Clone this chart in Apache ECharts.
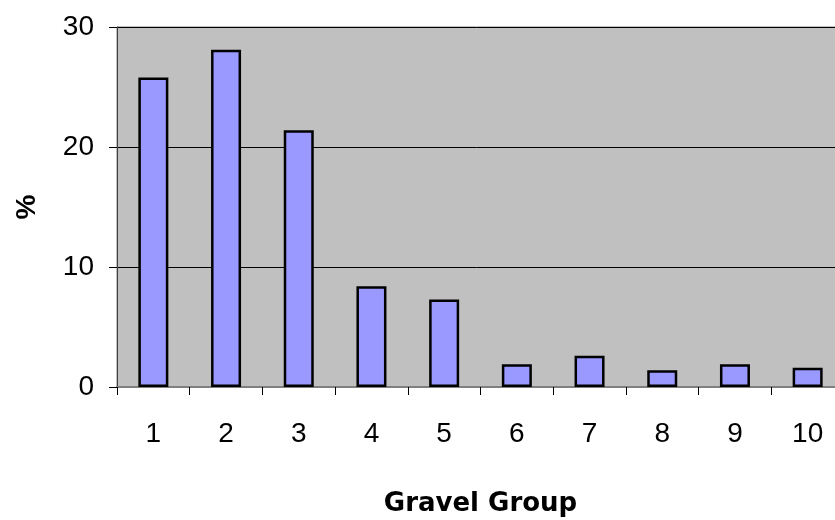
<!DOCTYPE html>
<html>
<head>
<meta charset="utf-8">
<script src="https://cdn.jsdelivr.net/npm/echarts@6/dist/echarts.min.js"></script>
<style>
html,body{margin:0;padding:0;background:#fff;}
#chart{width:835px;height:520px;}
</style>
</head>
<body>
<div id="chart"></div>
<script>
const categories = ['1','2','3','4','5','6','7','8','9','10'];
const percentValues = [25.8, 28.1, 21.4, 8.4, 7.3, 1.9, 2.6, 1.4, 1.9, 1.6];
const yTicks = [0, 10, 20, 30];

const chart = echarts.init(document.getElementById('chart'), null, {renderer:'canvas'});
const font = 'Liberation Sans, Arial, sans-serif';
chart.setOption({
  animation: false,
  backgroundColor: '#ffffff',
  grid: {
    left: 117, width: 727, top: 27, height: 360,
    outerBoundsMode: 'none',
    containLabel: false,
    show: true, backgroundColor: '#C0C0C0', borderColor: '#808080', borderWidth: 1
  },
  xAxis: {
    type: 'category',
    data: categories,
    boundaryGap: true,
    name: 'Gravel Group',
    nameLocation: 'middle',
    nameGap: 104,
    nameTextStyle: {fontFamily: 'DejaVu Sans', fontSize: 26, fontWeight: 'bold', color: '#000'},
    axisLine: {show: true, lineStyle: {color: '#808080', width: 2}},
    axisTick: {show: true, inside: false, length: 8, interval: 0, lineStyle: {color: '#000'}},
    axisLabel: {fontFamily: font, fontSize: 28, color: '#000', margin: 33, interval: 0, hideOverlap: false}
  },
  yAxis: {
    type: 'value',
    min: yTicks[0], max: yTicks[yTicks.length-1], interval: 10,
    name: '%',
    nameLocation: 'middle',
    nameGap: 76,
    nameRotate: 90,
    nameTextStyle: {fontFamily: font, fontSize: 28, fontWeight: 'bold', color: '#000'},
    axisLine: {show: true, lineStyle: {color: '#404040', width: 1}},
    axisTick: {show: true, inside: false, length: 8, lineStyle: {color: '#000'}},
    axisLabel: {fontFamily: font, fontSize: 28, color: '#000', margin: 23},
    splitLine: {show: true, lineStyle: {color: '#000', width: 1}}
  },
  series: [{
    type: 'bar',
    data: percentValues,
    barWidth: 30,
    itemStyle: {color: '#9999FF', borderColor: '#000', borderWidth: 2.5}
  }]
});
</script>
</body>
</html>
